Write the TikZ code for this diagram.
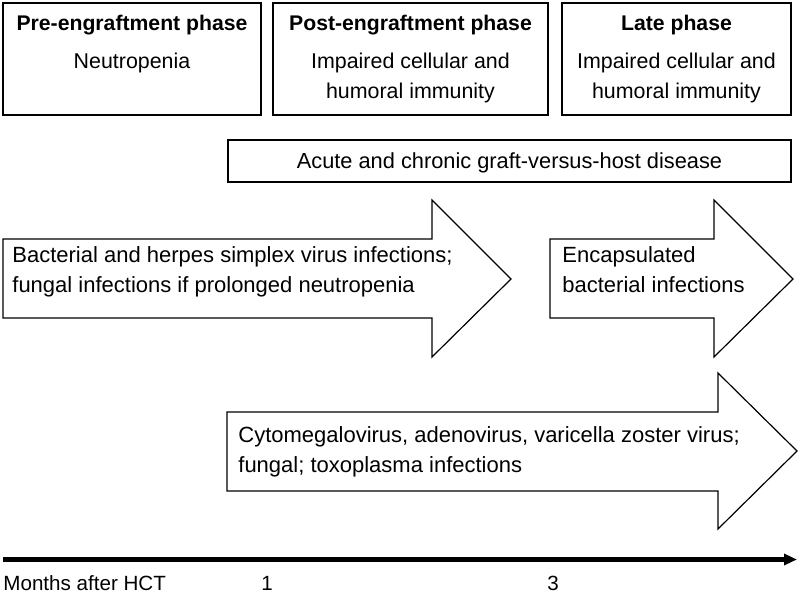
\documentclass[tikz,border=0pt]{standalone}
\usepackage{fontspec}
\setmainfont{Liberation Sans}
\usepackage{tikz}
\usetikzlibrary{arrows.meta}

\begin{document}
\begin{tikzpicture}[x=0.5pt,y=-0.5pt]
                \tikzstyle{every node}+=[inner sep=0pt, font=\fontsize{10.7}{15}\selectfont]
                \tikzstyle{phasebox}=[draw=black, line width=0.7pt, minimum height=56pt]
                \tikzstyle{phasetitle}=[anchor=base, font=\fontsize{10.6}{15}\selectfont\bfseries]
                \tikzstyle{infarrow}=[draw=black, line width=0.6pt, line join=miter]
                \tikzstyle{infnode}=[anchor=west, align=left, font=\fontsize{11}{15}\selectfont]
                \tikzstyle{timeaxis}=[line width=2.2pt, -{Triangle[length=6.5pt,width=5.5pt]}]
                \tikzstyle{axisnode}=[font=\fontsize{10.3}{15}\selectfont]
                \useasboundingbox (0,0) rectangle (800,596);
                % phases
                \node [phasebox, minimum width=129pt] (pre) at (132,59) {};
                \node [phasebox, minimum width=137.5pt] (post) at (410.5,59) {};
                \node [phasebox, minimum width=114.5pt] (late) at (676.5,59) {};
                \node [phasetitle] (pretitle) at (132,30) {Pre-engraftment phase};
                \node [phasetitle] (posttitle) at (410.5,30) {Post-engraftment phase};
                \node [phasetitle] (latetitle) at (676.5,30) {Late phase};
                \node [anchor=base] (preimm) at (132,68) {Neutropenia};
                \node [align=center] (postimm) at (410.5,77.5) {Impaired cellular and\\humoral immunity};
                \node [align=center] (lateimm) at (676.5,77.5) {Impaired cellular and\\humoral immunity};
                % gvhd
                \node [phasebox, minimum width=281.5pt, minimum height=21pt] (gvhd) at (509.5,161) {};
                \node [anchor=base, font=\fontsize{10.9}{15}\selectfont] (gvhdtext) at (509.5,168) {Acute and chronic graft-versus-host disease};
                % infections
                \draw [infarrow] (3,239) -- (432,239) -- (432,200) -- (511,279) -- (432,357) -- (432,318) -- (3,318) -- cycle;
                \node [infnode] (earlyinf) at (12,271.5) {Bacterial and herpes simplex virus infections;\\fungal infections if prolonged neutropenia};
                \draw [infarrow] (550,239) -- (714,239) -- (714,200) -- (793,279) -- (714,357) -- (714,318) -- (550,318) -- cycle;
                \node [infnode] (lateinf) at (562,269.5) {Encapsulated\\bacterial infections};
                \draw [infarrow] (227,412) -- (718,412) -- (718,373) -- (797,451) -- (718,529) -- (718,491) -- (227,491) -- cycle;
                \node [infnode] (midinf) at (238,451.5) {Cytomegalovirus, adenovirus, varicella zoster virus;\\fungal; toxoplasma infections};
                % time axis
                \coordinate (axstart) at (3,559.5);
                \coordinate (axend) at (797,559.5);
                \draw [timeaxis] (axstart) -- (axend);
                \node [axisnode, anchor=base west] (axlabel) at (3,590) {Months after HCT};
                \node [axisnode, anchor=base] (month1) at (267,590) {1};
                \node [axisnode, anchor=base] (month3) at (553,590) {3};
            \end{tikzpicture}
\end{document}
